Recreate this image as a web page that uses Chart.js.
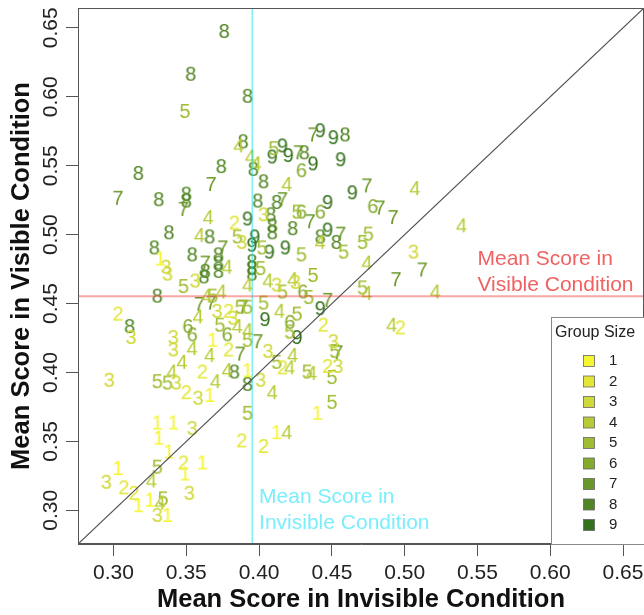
<!DOCTYPE html>
<html>
<head>
<meta charset="utf-8">
<script src="https://cdn.jsdelivr.net/npm/chart.js@4.4.1/dist/chart.umd.min.js"></script>
<style>
  html, body { margin: 0; padding: 0; background: #fff; }
  canvas { display: block; }
</style>
</head>
<body>
<canvas id="chart" width="644" height="615"></canvas>
<script>
// group sizes and their colours (yellow -> dark green)
const groupSizes = [1, 2, 3, 4, 5, 6, 7, 8, 9];
const groupColors = ['#f5f532', '#e3e636', '#d0d93a', '#b8cb37', '#9fbd33', '#84aa2e', '#6a9828', '#4f8522', '#33711c'];

// tick values and axis range
const xTicks = [0.30, 0.35, 0.40, 0.45, 0.50, 0.55, 0.60, 0.65];
const yTicks = [0.30, 0.35, 0.40, 0.45, 0.50, 0.55, 0.60, 0.65];
const axisMin = 0.2756;
const axisMax = 0.6644;

// condition means
const invisibleMean = 0.3953;
const visibleMean = 0.4554;

// [invisible score, visible score] per group size
const size1 = [[0.332,0.482],[0.368,0.423],[0.440,0.370],[0.412,0.356],[0.366,0.383],[0.330,0.363],[0.341,0.363],[0.331,0.352],[0.338,0.342],[0.349,0.326],[0.361,0.334],[0.303,0.330],[0.317,0.303],[0.325,0.307],[0.337,0.296],[0.392,0.401]];
const size2 = [[0.383,0.508],[0.303,0.442],[0.379,0.444],[0.379,0.416],[0.361,0.400],[0.416,0.403],[0.444,0.434],[0.497,0.432],[0.447,0.404],[0.388,0.350],[0.403,0.346],[0.350,0.385],[0.348,0.334],[0.307,0.316],[0.314,0.312]];
const size3 = [[0.506,0.487],[0.403,0.514],[0.388,0.494],[0.336,0.476],[0.337,0.471],[0.356,0.466],[0.412,0.463],[0.371,0.444],[0.312,0.425],[0.382,0.439],[0.341,0.425],[0.406,0.415],[0.341,0.416],[0.425,0.465],[0.451,0.422],[0.454,0.404],[0.401,0.394],[0.297,0.394],[0.343,0.392],[0.358,0.381],[0.354,0.359],[0.295,0.320],[0.330,0.296],[0.352,0.312]];
const size4 = [[0.386,0.564],[0.394,0.556],[0.398,0.551],[0.419,0.536],[0.507,0.533],[0.539,0.506],[0.442,0.494],[0.474,0.479],[0.474,0.457],[0.521,0.458],[0.365,0.512],[0.359,0.499],[0.378,0.476],[0.406,0.466],[0.423,0.467],[0.364,0.455],[0.374,0.458],[0.414,0.444],[0.358,0.440],[0.385,0.433],[0.354,0.417],[0.366,0.412],[0.347,0.407],[0.378,0.401],[0.421,0.403],[0.392,0.463],[0.491,0.434],[0.423,0.412],[0.436,0.399],[0.409,0.385],[0.419,0.356],[0.340,0.400],[0.370,0.393],[0.326,0.321],[0.332,0.305],[0.392,0.430]];
const size5 = [[0.349,0.589],[0.410,0.562],[0.475,0.500],[0.471,0.494],[0.458,0.487],[0.437,0.470],[0.471,0.461],[0.429,0.485],[0.426,0.516],[0.385,0.498],[0.402,0.490],[0.401,0.475],[0.348,0.462],[0.416,0.458],[0.368,0.455],[0.403,0.450],[0.387,0.447],[0.392,0.447],[0.373,0.434],[0.392,0.423],[0.412,0.407],[0.434,0.454],[0.426,0.442],[0.421,0.429],[0.452,0.415],[0.433,0.400],[0.450,0.396],[0.392,0.370],[0.450,0.378],[0.330,0.393],[0.337,0.392],[0.330,0.331],[0.334,0.308]];
const size6 = [[0.429,0.546],[0.442,0.516],[0.478,0.520],[0.429,0.516],[0.351,0.433],[0.354,0.427],[0.378,0.427],[0.430,0.458],[0.421,0.436]];
const size7 = [[0.437,0.572],[0.427,0.559],[0.367,0.536],[0.303,0.526],[0.474,0.535],[0.483,0.519],[0.492,0.512],[0.435,0.509],[0.456,0.500],[0.512,0.474],[0.494,0.467],[0.348,0.518],[0.416,0.525],[0.375,0.490],[0.363,0.479],[0.359,0.449],[0.367,0.450],[0.389,0.447],[0.399,0.422],[0.387,0.413],[0.447,0.452],[0.454,0.414]];
const size8 = [[0.376,0.647],[0.353,0.616],[0.392,0.600],[0.389,0.567],[0.459,0.572],[0.431,0.559],[0.396,0.547],[0.374,0.549],[0.403,0.538],[0.317,0.544],[0.350,0.529],[0.331,0.525],[0.442,0.498],[0.453,0.494],[0.350,0.524],[0.399,0.524],[0.412,0.523],[0.408,0.514],[0.409,0.506],[0.423,0.504],[0.409,0.501],[0.338,0.501],[0.366,0.498],[0.328,0.490],[0.354,0.485],[0.372,0.485],[0.372,0.479],[0.395,0.480],[0.395,0.475],[0.363,0.473],[0.372,0.473],[0.362,0.469],[0.395,0.471],[0.330,0.455],[0.311,0.433],[0.383,0.400],[0.392,0.391]];
const size9 = [[0.442,0.575],[0.451,0.570],[0.416,0.564],[0.409,0.556],[0.420,0.557],[0.437,0.551],[0.456,0.554],[0.464,0.530],[0.447,0.523],[0.447,0.503],[0.392,0.511],[0.397,0.498],[0.395,0.492],[0.407,0.487],[0.418,0.490],[0.404,0.438],[0.442,0.446],[0.426,0.425]];
const groups = [size1, size2, size3, size4, size5, size6, size7, size8, size9];

const FONT = '"Liberation Sans", Arial, Helvetica, sans-serif';

// each point is drawn as its group-size digit
function digitSprite(text, color) {
    const c = document.createElement('canvas');
    c.width = 24;
    c.height = 24;
    const g = c.getContext('2d');
    g.font = '20px ' + FONT;
    g.fillStyle = color;
    g.textAlign = 'center';
    g.textBaseline = 'middle';
    g.fillText(text, 12, 12);
    return c;
}

const datasets = [
    {
        type: 'line', label: 'identity',
        data: [{x: axisMin, y: axisMin}, {x: axisMax, y: axisMax}],
        borderColor: '#505050', borderWidth: 1.2, pointRadius: 0, order: 0
    },
    {
        type: 'line', label: 'visible mean',
        data: [{x: axisMin, y: visibleMean}, {x: axisMax, y: visibleMean}],
        borderColor: 'rgba(240,60,60,0.45)', borderWidth: 2, pointRadius: 0, order: 0
    },
    {
        type: 'line', label: 'invisible mean',
        data: [{x: invisibleMean, y: axisMin}, {x: invisibleMean, y: axisMax}],
        borderColor: 'rgba(0,225,240,0.5)', borderWidth: 1.5, pointRadius: 0, order: 0
    }
];
groups.forEach((pts, i) => {
    datasets.push({
        type: 'scatter',
        label: String(groupSizes[i]),
        data: pts.map(p => ({x: p[0], y: p[1]})),
        pointStyle: digitSprite(String(groupSizes[i]), groupColors[i]),
        pointRadius: 10,
        order: 1
    });
});

// box, tick labels, titles, notes and legend in R style
const rDecor = {
    id: 'rDecor',
    afterDraw(chart) {
        const ctx = chart.ctx;
        const a = chart.chartArea;
        const xs = chart.scales.x;
        const ys = chart.scales.y;
        ctx.save();

        ctx.strokeStyle = '#555';
        ctx.lineWidth = 1;
        ctx.strokeRect(a.left + 0.5, a.top + 0.5, a.right - a.left - 1, a.bottom - a.top - 1);

        ctx.fillStyle = '#222';
        ctx.font = '21px ' + FONT;
        ctx.textAlign = 'center';
        ctx.textBaseline = 'middle';
        xTicks.forEach(v => {
            ctx.fillText(v.toFixed(2), xs.getPixelForValue(v), 573);
        });
        yTicks.forEach(v => {
            ctx.save();
            ctx.translate(51, ys.getPixelForValue(v));
            ctx.rotate(-Math.PI / 2);
            ctx.fillText(v.toFixed(2), 0, 0);
            ctx.restore();
        });

        ctx.fillStyle = '#111';
        ctx.font = 'bold 25.5px ' + FONT;
        ctx.fillText('Mean Score in Invisible Condition', (a.left + a.right) / 2, 600);
        ctx.save();
        ctx.translate(22, (a.top + a.bottom) / 2);
        ctx.rotate(-Math.PI / 2);
        ctx.fillText('Mean Score in Visible Condition', 0, 0);
        ctx.restore();

        // notes next to the mean lines
        ctx.font = '21px ' + FONT;
        ctx.textAlign = 'left';
        ctx.fillStyle = '#f06262';
        let px = xs.getPixelForValue(0.55), py = ys.getPixelForValue(0.473);
        ctx.fillText('Mean Score in', px, py - 13);
        ctx.fillText('Visible Condition', px, py + 13);
        ctx.fillStyle = '#7aeefa';
        px = xs.getPixelForValue(0.40); py = ys.getPixelForValue(0.30);
        ctx.fillText('Mean Score in', px, py - 13);
        ctx.fillText('Invisible Condition', px, py + 13);

        // legend, bottom right
        const lx = a.right - 93, ly = a.bottom - 227;
        ctx.fillStyle = '#fff';
        ctx.fillRect(lx, ly, 93, 227);
        ctx.strokeStyle = '#888';
        ctx.strokeRect(lx + 0.5, ly + 0.5, 93, 227);
        ctx.fillStyle = '#222';
        ctx.font = '16px ' + FONT;
        ctx.fillText('Group Size', lx + 4, ly + 16);
        ctx.font = '15px ' + FONT;
        groupSizes.forEach((g, i) => {
            const ry = ly + 44 + i * 20.5;
            ctx.fillStyle = groupColors[i];
            ctx.fillRect(lx + 32.5, ry - 5.5, 11, 11);
            ctx.strokeStyle = '#666';
            ctx.lineWidth = 0.8;
            ctx.strokeRect(lx + 32.5, ry - 5.5, 11, 11);
            ctx.fillStyle = '#222';
            ctx.fillText(String(g), lx + 58, ry);
        });
        ctx.restore();
    }
};

new Chart(document.getElementById('chart'), {
    type: 'scatter',
    data: { datasets: datasets },
    options: {
        responsive: false,
        animation: false,
        events: [],
        layout: { autoPadding: false, padding: { left: 66, right: 0, top: 8, bottom: 59 } },
        plugins: { legend: { display: false }, tooltip: { enabled: false } },
        scales: {
            x: {
                type: 'linear', min: axisMin, max: axisMax,
                afterBuildTicks: s => { s.ticks = xTicks.map(v => ({value: v})); },
                ticks: { display: false },
                grid: { drawOnChartArea: false, drawTicks: true, tickLength: 12, color: '#555' },
                border: { display: true, color: '#555' }
            },
            y: {
                type: 'linear', min: axisMin, max: axisMax,
                afterBuildTicks: s => { s.ticks = yTicks.map(v => ({value: v})); },
                ticks: { display: false },
                grid: { drawOnChartArea: false, drawTicks: true, tickLength: 12, color: '#555' },
                border: { display: true, color: '#555' }
            }
        }
    },
    plugins: [rDecor]
});
</script>
</body>
</html>
